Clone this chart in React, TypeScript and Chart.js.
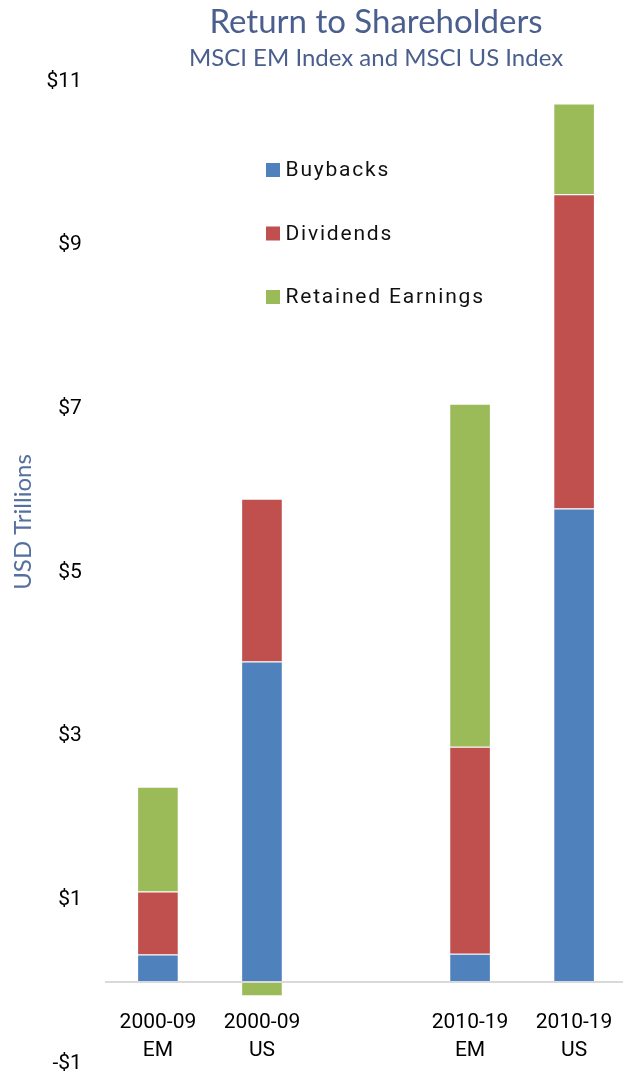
import { useEffect, useRef } from 'react';
import { Chart, registerables } from 'chart.js';

Chart.register(...registerables);

const categories = [['2000-09', 'EM'], ['2000-09', 'US'], [''], ['2010-19', 'EM'], ['2010-19', 'US']];
const seriesNames = ['Buybacks', 'Dividends', 'Retained Earnings'];
const buybacks = [0.33, 3.91, null, 0.34, 5.78];
const dividends = [0.77, 1.99, null, 2.53, 3.84];
const retainedEarnings = [1.28, -0.18, null, 4.19, 1.11];
const yTicks = [-1, 1, 3, 5, 7, 9, 11];
const seriesColors = ['#4F81BD', '#C0504D', '#9BBB59'];

const titleText = 'Return to Shareholders';
const subtitleText = 'MSCI EM Index and MSCI US Index';
const yTitleText = 'USD Trillions';

const overlayPlugin = {
  id: 'overlay',
  afterLayout(chart: any) {
    for (const b of chart.boxes) {
      if (b && b.options && 'text' in b.options && !b.axis) {
        b.left += 10;
        b.right += 10;
      }
    }
  },
  afterDraw(chart: any) {
    const ctx = chart.ctx;
    ctx.save();
    ctx.font = '21px Roboto';
    ctx.textBaseline = 'middle';
    ctx.textAlign = 'left';
    try { (ctx as any).letterSpacing = '1.8px'; } catch (e) {}
    chart.data.datasets.forEach((ds: any, i: number) => {
      const y = 170 + i * 63.5;
      ctx.fillStyle = ds.backgroundColor;
      ctx.fillRect(266, y - 7, 14, 14);
      ctx.fillStyle = '#111111';
      ctx.fillText(ds.label, 285.5, y + 1);
    });
    try { (ctx as any).letterSpacing = '0px'; } catch (e) {}
    ctx.translate(23, 522);
    ctx.rotate(-Math.PI / 2);
    ctx.font = '24px Lato';
    ctx.fillStyle = '#5570A0';
    ctx.textAlign = 'center';
    ctx.fillText(yTitleText, 0, 0);
    ctx.restore();
  },
};

export default function App() {
  const ref = useRef<HTMLCanvasElement>(null);
  useEffect(() => {
    if (!ref.current) return;
    const data = [buybacks, dividends, retainedEarnings];
    const chart = new Chart(ref.current, {
      type: 'bar',
      data: {
        labels: categories,
        datasets: seriesNames.map((name, i) => ({
          label: name,
          data: data[i],
          backgroundColor: seriesColors[i],
          borderColor: 'rgba(255,255,255,0.35)',
          borderWidth: 1,
          barPercentage: 0.4,
          categoryPercentage: 1,
        })),
      },
      options: {
        animation: false,
        responsive: false,
        maintainAspectRatio: false,
        layout: { padding: { top: 0, left: 0, right: 1, bottom: 11.3 } },
        plugins: {
          legend: { display: false },
          tooltip: { enabled: false },
          title: {
            display: true,
            text: titleText,
            color: '#4A5F8E',
            fullSize: false,
            font: { family: 'Lato', size: 33, weight: 'normal', lineHeight: 1.2 },
            padding: { top: 2.2, bottom: 0 },
          },
          subtitle: {
            display: true,
            text: subtitleText,
            color: '#4A5F8E',
            fullSize: false,
            font: { family: 'Lato', size: 24, weight: 'normal', lineHeight: 1.2 },
            padding: { top: 1.8, bottom: 8.9 },
          },
        },
        scales: {
          x: {
            type: 'category',
            stacked: true,
            offset: true,
            position: { y: 0 } as any,
            grid: { display: false, drawTicks: false },
            border: { display: true, color: '#D9D9D9', width: 2, z: 1 },
            ticks: {
              color: '#000000',
              font: { family: 'Roboto', size: 21, lineHeight: 1.3 },
              padding: 28,
              autoSkip: false,
              maxRotation: 0,
              minRotation: 0,
            },
            afterFit: (s: any) => { s.height = 0; },
          },
          y: {
            stacked: true,
            min: -1,
            max: 11,
            grid: { display: false, drawTicks: false },
            border: { display: false },
            afterBuildTicks: (s: any) => { s.ticks = yTicks.map((v) => ({ value: v })); },
            afterFit: (s: any) => { s.width = 105.9; },
            ticks: {
              color: '#000000',
              font: { family: 'Roboto', size: 21 },
              padding: 24,
              callback: (v: any) => (Number(v) < 0 ? '-$' : '$') + Math.abs(Number(v)),
            },
          },
        },
      },
      plugins: [overlayPlugin],
    });
    if ((document as any).fonts && (document as any).fonts.ready) {
      (document as any).fonts.ready.then(() => { try { chart.update(); } catch (e) {} });
    }
    return () => chart.destroy();
  }, []);
  return (
    <div style={{ position: 'fixed', left: 0, top: 0, width: 623, height: 1073, overflow: 'hidden', background: '#ffffff' }}>
      <canvas ref={ref} width={642} height={1100} style={{ display: 'block' }} />
    </div>
  );
}
